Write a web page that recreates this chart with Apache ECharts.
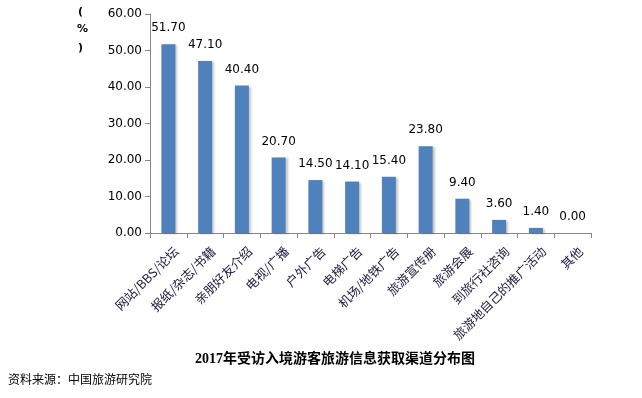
<!DOCTYPE html>
<html><head><meta charset="utf-8">
<script src="https://cdn.jsdelivr.net/npm/echarts@6/dist/echarts.min.js"></script>
<style>html,body{margin:0;padding:0;background:#fff}#c{width:642px;height:398px}</style>
</head><body><div id="c"></div>
<script>
const categories = ['网站/BBS/论坛','报纸/杂志/书籍','亲朋好友介绍','电视/广播','户外广告','电梯广告','机场/地铁广告','旅游宣传册','旅游会展','到旅行社咨询','旅游地自己的推广活动','其他'];
const values = [51.70,47.10,40.40,20.70,14.50,14.10,15.40,23.80,9.40,3.60,1.40,0.00];
const yTicks = [0,10,20,30,40,50,60];
const title = '2017年受访入境游客旅游信息获取渠道分布图';
const source = '资料来源：中国旅游研究院';

const chart = echarts.init(document.getElementById('c'));
chart.setOption({
  animation:false,
  textStyle:{fontFamily:'"Noto Sans CJK SC", sans-serif'},
  title:[
    {text:title,left:195,top:352,padding:0,textStyle:{fontSize:14,fontWeight:'bold',color:'#000',fontFamily:'"Liberation Serif","Noto Sans CJK SC",serif'}},
    {text:source,left:8,top:373,padding:0,textStyle:{fontSize:12,fontWeight:'normal',color:'#000'}}
  ],
  graphic:[
    {type:'text',left:78,top:7,style:{text:'(',fontSize:11,fontWeight:'bold',fill:'#000',fontFamily:'DejaVu Sans'}},
    {type:'text',left:77,top:24,style:{text:'%',fontSize:11,fontWeight:'bold',fill:'#000',fontFamily:'DejaVu Sans'}},
    {type:'text',left:78,top:43,style:{text:')',fontSize:11,fontWeight:'bold',fill:'#000',fontFamily:'DejaVu Sans'}}
  ],
  grid:{left:150,top:14,width:441,height:219,containLabel:false},
  xAxis:{type:'category',data:categories,
    axisLine:{lineStyle:{color:'#868686',width:1}},
    axisTick:{show:true,alignWithLabel:false,length:5,lineStyle:{color:'#868686'}},
    axisLabel:{rotate:45,interval:0,fontSize:12.5,color:'#1a1a3a',margin:8,verticalAlign:'top',padding:[5,0,0,0],fontFamily:'"Noto Sans CJK SC", sans-serif'}
  },
  yAxis:{type:'value',min:0,max:60,interval:10,
    axisLine:{show:true,lineStyle:{color:'#868686'}},
    axisTick:{show:true,length:5,lineStyle:{color:'#868686'}},
    splitLine:{show:false},
    axisLabel:{fontSize:12,color:'#000',margin:8,fontFamily:'"DejaVu Sans", sans-serif',formatter:v=>v.toFixed(2)}
  },
  series:[{type:'bar',data:values,barWidth:14,
    itemStyle:{color:'#4F81BD',shadowColor:'rgba(0,0,0,0.22)',shadowBlur:2,shadowOffsetX:2,shadowOffsetY:1},
    label:{show:true,position:'top',distance:10,fontSize:12,color:'#000',fontFamily:'"DejaVu Sans", sans-serif',formatter:p=>p.value.toFixed(2)}
  }]
});
</script></body></html>
